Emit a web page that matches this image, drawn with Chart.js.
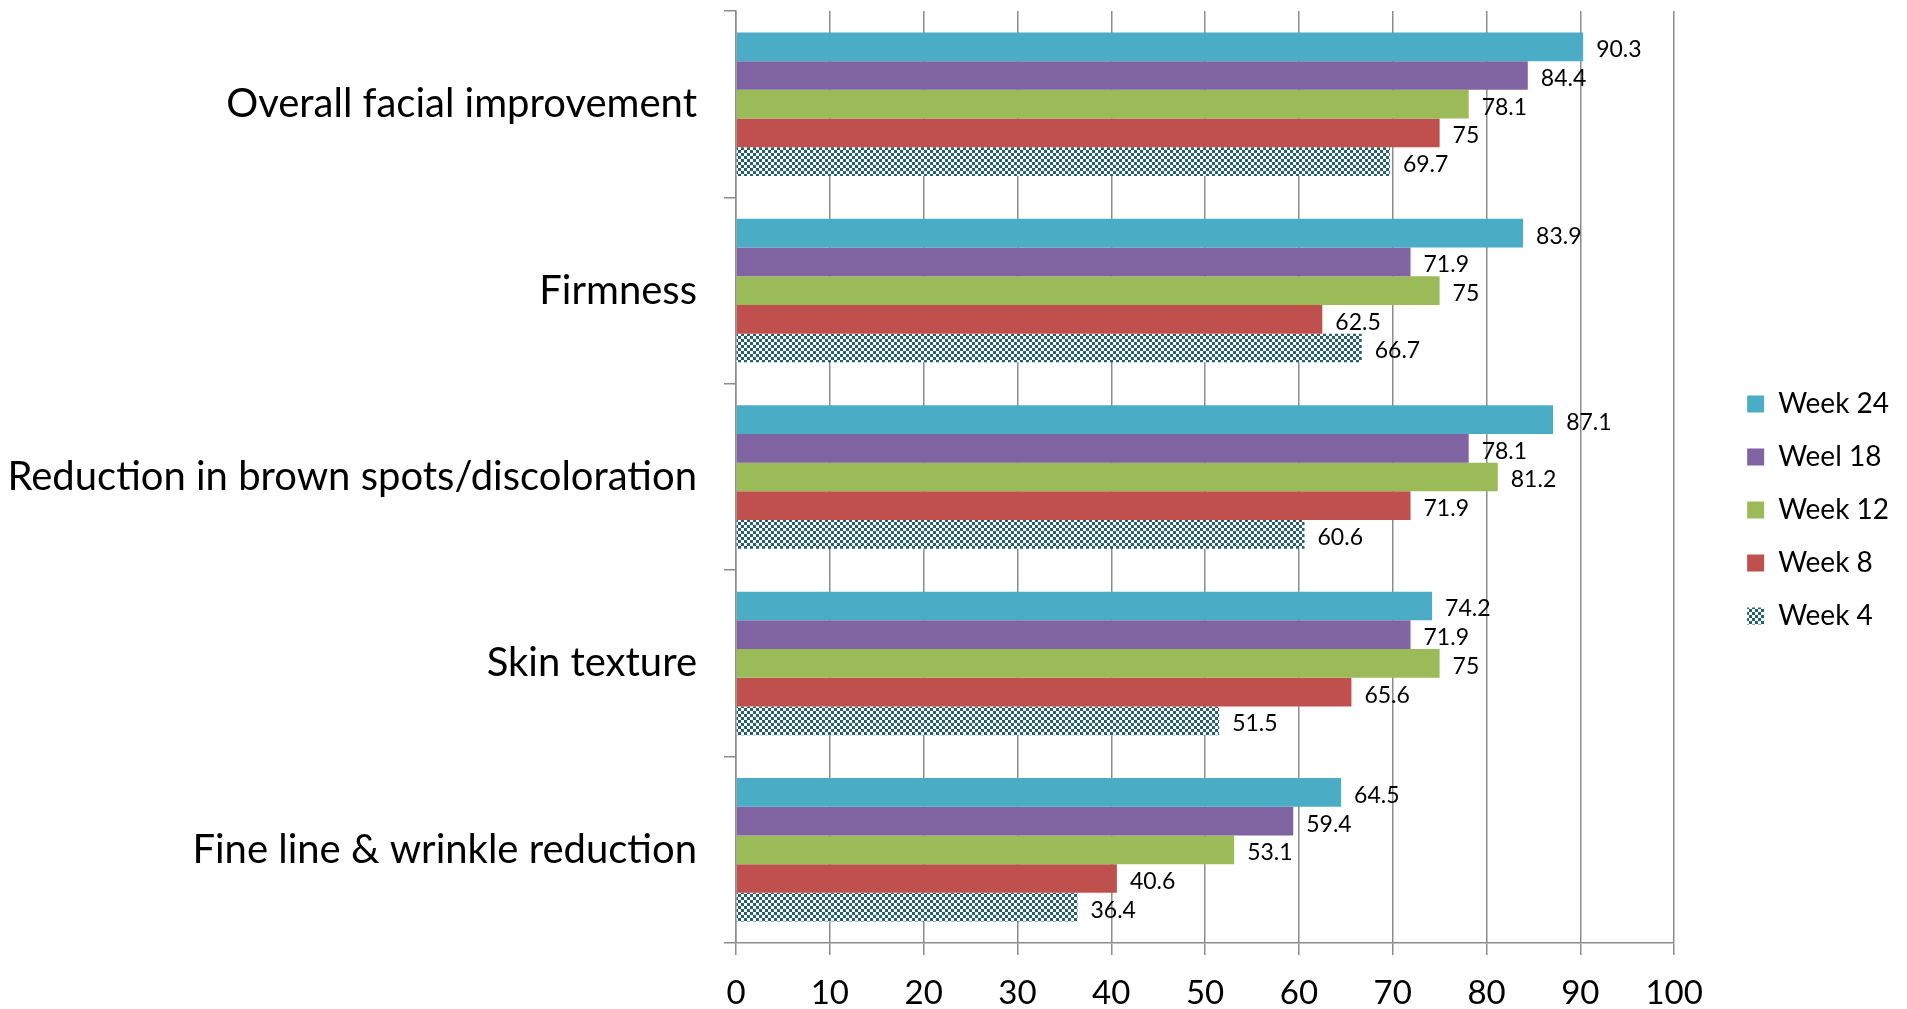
<!DOCTYPE html>
<html>
<head>
<meta charset="utf-8">
<script src="https://cdn.jsdelivr.net/npm/chart.js@4"></script>
<style>
  html, body { margin: 0; padding: 0; background: #fff; }
  #wrap { width: 1907px; height: 1009px; }
</style>
</head>
<body>
<div id="wrap"><canvas id="chart"></canvas></div>
<script>
const categories = [
    'Overall facial improvement',
    'Firmness',
    'Reduction in brown spots/discoloration',
    'Skin texture',
    'Fine line & wrinkle reduction'
]
const seriesNames = ['Week 24', 'Weel 18', 'Week 12', 'Week 8', 'Week 4']
const week24 = [90.3, 83.9, 87.1, 74.2, 64.5]
const week18 = [84.4, 71.9, 78.1, 71.9, 59.4]
const week12 = [78.1, 75, 81.2, 75, 53.1]
const week8 = [75, 62.5, 71.9, 65.6, 40.6]
const week4 = [69.7, 66.7, 60.6, 51.5, 36.4]
const xTicks = [0, 10, 20, 30, 40, 50, 60, 70, 80, 90, 100]

// checkerboard fill for Week 4
const makeChecker = () => {
    const c = document.createElement('canvas')
    c.width = 6
    c.height = 6
    const g = c.getContext('2d')
    g.fillStyle = '#ffffff'
    g.fillRect(0, 0, 6, 6)
    g.fillStyle = '#25606f'
    g.fillRect(0, 0, 3, 3)
    g.fillRect(3, 3, 3, 3)
    return g.createPattern(c, 'repeat')
}

const colors = ['#4bacc6', '#8064a2', '#9bbb59', '#c0504d', makeChecker()]
const values = [week24, week18, week12, week8, week4]

const LEGEND_GAP = 48 // extra space between plot and legend

// value labels at the end of each bar
const barLabels = {
    id: 'barLabels',
    afterDatasetsDraw(chart) {
        const ctx = chart.ctx
        ctx.save()
        ctx.font = '23px Lato'
        ctx.fillStyle = '#000'
        ctx.textAlign = 'left'
        ctx.textBaseline = 'middle'
        chart.data.datasets.forEach((ds, i) => {
            const meta = chart.getDatasetMeta(i)
            meta.data.forEach((el, j) => {
                ctx.fillText(String(ds.data[j]), el.x + 13, el.y + 3)
            })
        })
        ctx.restore()
    }
}

// push the legend further away from the plot area
const legendGap = {
    id: 'legendGap',
    afterInit(chart) {
        const legend = chart.legend
        const fit = legend.fit.bind(legend)
        legend.fit = function () {
            fit()
            this.width += LEGEND_GAP
        }
    },
    afterLayout(chart) {
        chart.legend.left += LEGEND_GAP
    }
}

const ctx = document.getElementById('chart').getContext('2d')
new Chart(ctx, {
    type: 'bar',
    data: {
        labels: categories,
        datasets: seriesNames.map((name, i) => ({
            label: name,
            data: values[i],
            backgroundColor: colors[i],
            borderWidth: 0,
            categoryPercentage: 0.77,
            barPercentage: 1
        }))
    },
    options: {
        indexAxis: 'y',
        responsive: true,
        maintainAspectRatio: false,
        animation: false,
        layout: { padding: { top: 11, right: 8, bottom: 0, left: 0 } },
        plugins: {
            legend: {
                position: 'right',
                labels: {
                    boxWidth: 17,
                    boxHeight: 17,
                    padding: 25,
                    color: '#000',
                    font: { family: 'Lato', size: 28 }
                }
            },
            tooltip: { enabled: false }
        },
        scales: {
            x: {
                min: 0,
                max: 100,
                afterBuildTicks: (scale) => { scale.ticks = xTicks.map(v => ({ value: v })) },
                afterFit: (scale) => { scale.height = 66 },
                grid: { color: '#8c8c8c', lineWidth: 1.5, tickLength: 12 },
                border: { color: '#8c8c8c', width: 1.5 },
                ticks: { color: '#000', padding: 19, font: { family: 'Lato', size: 33 } }
            },
            y: {
                afterFit: (scale) => {
                    scale.width = 736
                    scale.paddingTop = 0
                    scale.paddingBottom = 0
                },
                grid: { drawOnChartArea: false, color: '#8c8c8c', lineWidth: 1.5, tickLength: 12 },
                border: { color: '#8c8c8c', width: 1.5 },
                ticks: { color: '#000', padding: 27, font: { family: 'Lato', size: 40 } }
            }
        }
    },
    plugins: [barLabels, legendGap]
})
</script>
</body>
</html>
